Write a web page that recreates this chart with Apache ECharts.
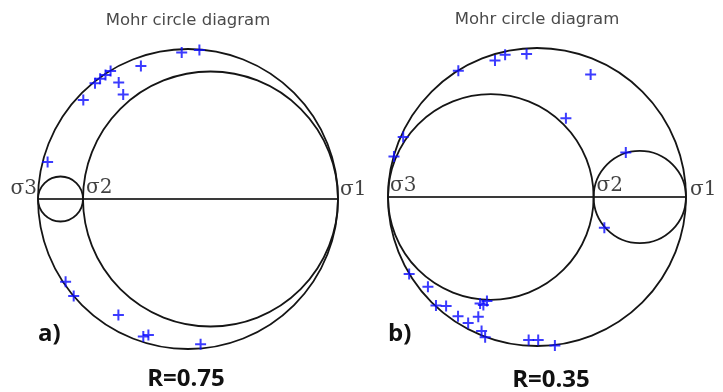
<!DOCTYPE html>
<html>
<head>
<meta charset="utf-8">
<script src="https://cdn.jsdelivr.net/npm/echarts@6/dist/echarts.min.js"></script>
<style>
html,body{margin:0;padding:0;background:#fff;}
#chart{width:723px;height:392px;}
</style>
</head>
<body>
<div id="chart"></div>
<script>
// Principal stresses (normalised so that sigma3 = 0, sigma1 = 100)
const sigmaA = [0, 15, 100];   // σ3, σ2, σ1 panel a
const sigmaB = [0, 69, 100];   // σ3, σ2, σ1 panel b
const sigmaLabels = ['σ3', 'σ2', 'σ1'];
const titleText = 'Mohr circle diagram';
const panelNames = ['a)', 'b)'];
const ratioLabels = ['R=0.75', 'R=0.35'];

// Plotted planes (normal stress, shear stress), panel a
const pointsA_sigma = [15.1, 19.0, 20.7, 22.5, 24.2, 26.9, 28.4, 34.3, 47.9, 53.8, 3.2, 9.2, 11.9, 26.8, 35.1, 36.8, 54.2];
const pointsA_tau   = [33.0, 38.6, 40.1, 41.3, 42.7, 38.8, 34.8, 44.3, 48.8, 49.7, 12.3, -27.6, -32.3, -38.7, -45.8, -45.3, -48.4];

// panel b
const pointsB_sigma = [23.6, 35.9, 39.3, 46.5, 68.0, 59.7, 5.1, 2.0, 79.8, 72.6, 7.1, 13.4, 16.1, 19.5, 23.5, 26.9, 30.3, 30.9, 32.0, 33.2, 31.4, 32.6, 47.2, 50.4, 56.0];
const pointsB_tau   = [42.4, 45.8, 47.7, 48.0, 41.1, 26.4, 20.1, 13.6, 14.9, -10.3, -25.8, -30.1, -36.4, -36.6, -40.0, -42.3, -40.2, -35.7, -36.2, -34.9, -45.0, -47.1, -48.0, -48.0, -49.8];

const zip = (a, b) => a.map((v, i) => [v, b[i]]);
const circlesOf = s => [[s[0], s[2]], [s[0], s[1]], [s[1], s[2]]];

const CROSS = 'path://M4.5,0h2v4.5h4.5v2h-4.5v4.5h-2v-4.5h-4.5v-2h4.5z';

function renderCircle(params, api) {
  const p0 = api.coord([api.value(0), 0]);
  const p1 = api.coord([api.value(1), 0]);
  return {
    type: 'circle',
    shape: { cx: (p0[0] + p1[0]) / 2, cy: p0[1], r: Math.abs(p1[0] - p0[0]) / 2 },
    style: { fill: 'none', stroke: '#151515', lineWidth: 1.8 }
  };
}

function hiddenAxis(idx, min, max) {
  return {
    type: 'value', gridIndex: idx, min: min, max: max,
    axisLine: { show: false }, axisTick: { show: false },
    axisLabel: { show: false }, splitLine: { show: false }
  };
}

const serifLabel = {
  show: true, formatter: p => p.name,
  fontFamily: 'DejaVu Serif', fontSize: 20, color: '#111'
};

function panelSeries(idx, sigma, pts, labelCfg) {
  return [
    {
      type: 'line', xAxisIndex: idx, yAxisIndex: idx, symbol: 'none', silent: true,
      data: [[sigma[0], 0], [sigma[2], 0]],
      lineStyle: { color: '#3a3a3a', width: 1.8 }, z: 2
    },
    {
      type: 'custom', xAxisIndex: idx, yAxisIndex: idx, clip: false, silent: true,
      renderItem: renderCircle, data: circlesOf(sigma), z: 3
    },
    {
      type: 'scatter', xAxisIndex: idx, yAxisIndex: idx, symbol: CROSS, symbolSize: 11,
      itemStyle: { color: '#0a0aff' }, data: pts, z: 5, silent: true
    },
    {
      type: 'scatter', xAxisIndex: idx, yAxisIndex: idx, symbolSize: 0, silent: true, z: 6,
      data: sigma.map((s, i) => ({
        name: sigmaLabels[i], value: [s, 0],
        label: Object.assign({}, serifLabel, labelCfg[i])
      }))
    }
  ];
}

const labelsA = [
  { position: [-1, 0], align: 'right', verticalAlign: 'bottom' },
  { position: [3, -1], align: 'left', verticalAlign: 'bottom' },
  { position: [2, 1], align: 'left', verticalAlign: 'bottom' }
];
const labelsB = [
  { position: [2, -1], align: 'left', verticalAlign: 'bottom' },
  { position: [3, -1], align: 'left', verticalAlign: 'bottom' },
  { position: [4, 3], align: 'left', verticalAlign: 'bottom' }
];

const chart = echarts.init(document.getElementById('chart'), null, { renderer: 'canvas' });

const textStyleTitle = { font: '16.5px "DejaVu Sans"', fill: '#4a4a4a', align: 'center', verticalAlign: 'middle' };
const textStyleBold = { font: 'bold 24px "Open Sans"', fill: '#111', align: 'center', verticalAlign: 'bottom' };

chart.setOption({
  animation: false,
  backgroundColor: '#fff',
  grid: [
    { left: 38, top: 34, width: 300, height: 330 },
    { left: 388, top: 33.1, width: 298, height: 327.8 }
  ],
  xAxis: [hiddenAxis(0, 0, 100), hiddenAxis(1, 0, 100)],
  yAxis: [hiddenAxis(0, -55, 55), hiddenAxis(1, -55, 55)],
  series: [].concat(
    panelSeries(0, sigmaA, zip(pointsA_sigma, pointsA_tau), labelsA),
    panelSeries(1, sigmaB, zip(pointsB_sigma, pointsB_tau), labelsB)
  ),
  graphic: [
    { type: 'text', x: 188, y: 21, style: Object.assign({ text: titleText }, textStyleTitle) },
    { type: 'text', x: 537, y: 20, style: Object.assign({ text: titleText }, textStyleTitle) },
    { type: 'text', x: 38, y: 346, style: Object.assign({}, textStyleBold, { text: panelNames[0], align: 'left' }) },
    { type: 'text', x: 388, y: 346, style: Object.assign({}, textStyleBold, { text: panelNames[1], align: 'left' }) },
    { type: 'text', x: 186, y: 391, style: Object.assign({ text: ratioLabels[0] }, textStyleBold) },
    { type: 'text', x: 551, y: 392, style: Object.assign({ text: ratioLabels[1] }, textStyleBold) }
  ]
});
</script>
</body>
</html>
